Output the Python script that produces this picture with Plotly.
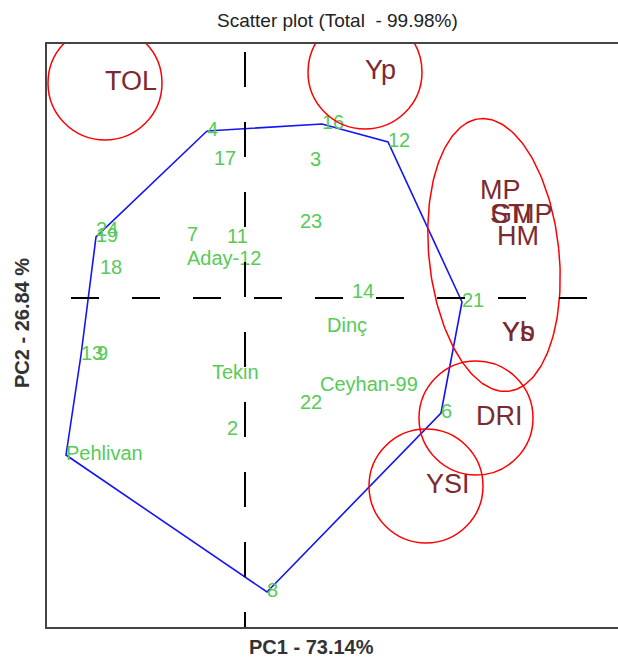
import numpy as np
import plotly.graph_objects as go

# Genotype scores (PC1, PC2)
gen_names = ["4", "17", "16", "3", "12", "23", "24", "19", "7", "11", "Aday-12", "18",
             "14", "21", "Dinç", "13", "9", "Tekin", "Ceyhan-99", "22", "6", "2",
             "Pehlivan", "8"]
gen_pc1 = [-0.38, -0.31, 0.77, 0.65, 1.43, 0.55, -1.49, -1.49, -0.58, -0.18, -0.58, -1.45,
           1.07, 2.17, 0.82, -1.64, -1.48, -0.33, 0.75, 0.55, 1.96, -0.18, -1.79, 0.22]
gen_pc2 = [1.67, 1.38, 1.74, 1.37, 1.56, 0.75, 0.67, 0.61, 0.62, 0.60, 0.38, 0.29,
           0.05, -0.04, -0.29, -0.57, -0.57, -0.76, -0.88, -1.06, -1.15, -1.32, -1.57, -2.94]

# Polygon (hull) vertices, by genotype name
hull_order = ["4", "16", "12", "21", "6", "8", "Pehlivan", "13", "19", "4"]

# Trait / environment scores (PC1, PC2)
env_names = ["TOL", "Yp", "MP", "STI", "GMP", "HM", "Yb", "Ys", "DRI", "YSI"]
env_pc1 = [-1.40, 1.20, 2.35, 2.45, 2.46, 2.52, 2.57, 2.57, 2.31, 1.81]
env_pc2 = [2.15, 2.26, 1.06, 0.82, 0.82, 0.60, -0.36, -0.36, -1.20, -1.88]

# Circled traits
circled = ["TOL", "Yp", "DRI", "YSI"]
circle_r = 0.57
# Group ellipse (center x, center y, semi-axis x, semi-axis y, tilt deg)
ell = (2.49, 0.43, 0.65, 1.37, 6.0)

x_range = [-1.98, 3.73]
y_range = [-3.29, 2.54]

GREEN = "#58CA58"
MAROON = "#7B2B30"

fig = go.Figure()

# hull
idx = {n: i for i, n in enumerate(gen_names)}
fig.add_trace(go.Scatter(
    x=[gen_pc1[idx[n]] for n in hull_order],
    y=[gen_pc2[idx[n]] for n in hull_order],
    mode="lines", line=dict(color="#1414F5", width=1.6),
    hoverinfo="skip", showlegend=False))

# ellipse
t = np.linspace(0, 2 * np.pi, 200)
cx, cy, ax_, ay_, th = ell
th = np.deg2rad(th)
ex = cx + ax_ * np.cos(t) * np.cos(th) - ay_ * np.sin(t) * np.sin(th)
ey = cy + ax_ * np.cos(t) * np.sin(th) + ay_ * np.sin(t) * np.cos(th)
fig.add_trace(go.Scatter(x=ex, y=ey, mode="lines",
                         line=dict(color="#FF0000", width=1.5),
                         hoverinfo="skip", showlegend=False))

# genotype labels
fig.add_trace(go.Scatter(
    x=gen_pc1, y=gen_pc2, text=gen_names, mode="text",
    textposition="middle right",
    textfont=dict(family="Liberation Sans, Arial", size=20, color=GREEN),
    hoverinfo="skip", showlegend=False))

# trait labels
fig.add_trace(go.Scatter(
    x=env_pc1, y=env_pc2, text=env_names, mode="text",
    textposition="middle right",
    textfont=dict(family="Liberation Sans, Arial", size=27, color=MAROON),
    hoverinfo="skip", showlegend=False))

shapes = []
for n in circled:
    i = env_names.index(n)
    shapes.append(dict(type="circle", xref="x", yref="y",
                       x0=env_pc1[i] - circle_r, x1=env_pc1[i] + circle_r,
                       y0=env_pc2[i] - circle_r, y1=env_pc2[i] + circle_r,
                       line=dict(color="#FF0000", width=1.5)))
# origin cross lines
shapes.append(dict(type="line", xref="x", yref="y", x0=0, x1=0, y0=2.46, y1=y_range[0],
                   line=dict(color="black", width=2, dash="35px,35px")))
shapes.append(dict(type="line", xref="x", yref="y", x0=-1.74, x1=3.55, y0=0, y1=0,
                   line=dict(color="black", width=2, dash="28px,33px")))

fig.update_layout(
    width=618, height=658,
    margin=dict(l=47, r=0, t=44, b=31),
    paper_bgcolor="white", plot_bgcolor="white",
    shapes=shapes,
    showlegend=False,
    title=dict(text="Scatter plot (Total  - 99.98%)", x=0.546, xref="container",
               xanchor="center", y=1 - 20 / 658, yanchor="middle",
               font=dict(family="Liberation Sans, Arial", size=19, color="#222222")),
    xaxis=dict(range=x_range, showgrid=False, zeroline=False, showticklabels=False,
               ticks="", showline=True, mirror=True, linecolor="#444444", linewidth=2),
    yaxis=dict(range=y_range, showgrid=False, zeroline=False, showticklabels=False,
               ticks="", showline=True, mirror=False, linecolor="#444444", linewidth=2),
    annotations=[
        dict(text="<b>PC1 - 73.14%</b>", xref="paper", yref="paper",
             x=(311 - 47) / 571, y=0, xanchor="center", yanchor="middle", yshift=-20,
             showarrow=False,
             font=dict(family="Liberation Sans, Arial", size=20, color="#333333")),
        dict(text="<b>PC2 - 26.84 %</b>", xref="paper", yref="paper",
             x=0, y=(627 - 323) / 583, xanchor="center", yanchor="middle", xshift=-25,
             textangle=-90, showarrow=False,
             font=dict(family="Liberation Sans, Arial", size=20, color="#333333")),
    ],
)

fig.write_html("out.html")
